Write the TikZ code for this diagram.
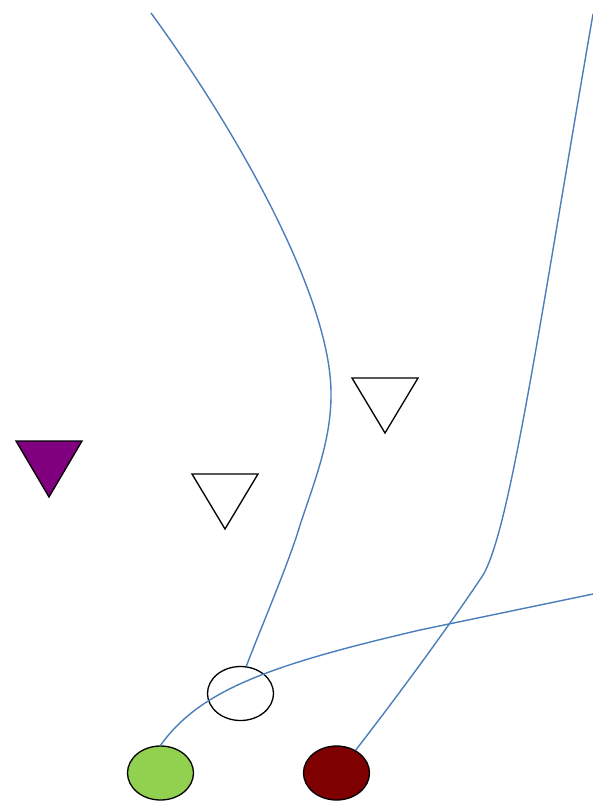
\documentclass[tikz,border=0pt]{standalone}
\usetikzlibrary{shapes.geometric}
\definecolor{routeblue}{HTML}{4A7EBB}
\definecolor{grassgreen}{HTML}{92D050}
\definecolor{darkmaroon}{HTML}{7F0000}
\definecolor{violet}{HTML}{800080}

\begin{document}
\begin{tikzpicture}[x=1pt,y=-1pt,
    player/.style={ellipse,draw=black,line width=1.3pt,minimum width=66pt,minimum height=54pt,inner sep=0pt},
    route/.style={draw=routeblue,line width=1.4pt},
    defender/.style={draw=black,line width=1.3pt,line join=miter}]
            \useasboundingbox (0,0) rectangle (593,801);

            % defenders
            \filldraw[defender,fill=violet] (16,441) -- (82,441) -- (49,497) -- cycle;
            \draw[defender] (192,474) -- (258,474) -- (225,529) -- cycle;
            \draw[defender] (352,378) -- (418,378) -- (385,433) -- cycle;

            % offense
            \node[player,fill=white] (center) at (240.5,693.5) {};
            \node[player,fill=grassgreen] (back) at (160.5,773) {};
            \node[player,fill=darkmaroon] (wing) at (336.5,773) {};

            % route ends
            \coordinate (deepleft) at (151,13);
            \coordinate (deepright) at (593,14);
            \coordinate (flat) at (593,594);

            % routes
            \draw[route] (center.78) .. controls (260,630) and (290,560) .. (300,525)
                .. controls (315,480) and (331,440) .. (331,395)
                .. controls (332,300) and (240,135) .. (deepleft);
            \draw[route] (wing.50) .. controls (410,680) and (460,610) .. (483,575)
                .. controls (510,530) and (540,320) .. (deepright);
            \draw[route] (back.north) .. controls (200,690) and (270,665) .. (420,630) -- (flat);
        \end{tikzpicture}
\end{document}
